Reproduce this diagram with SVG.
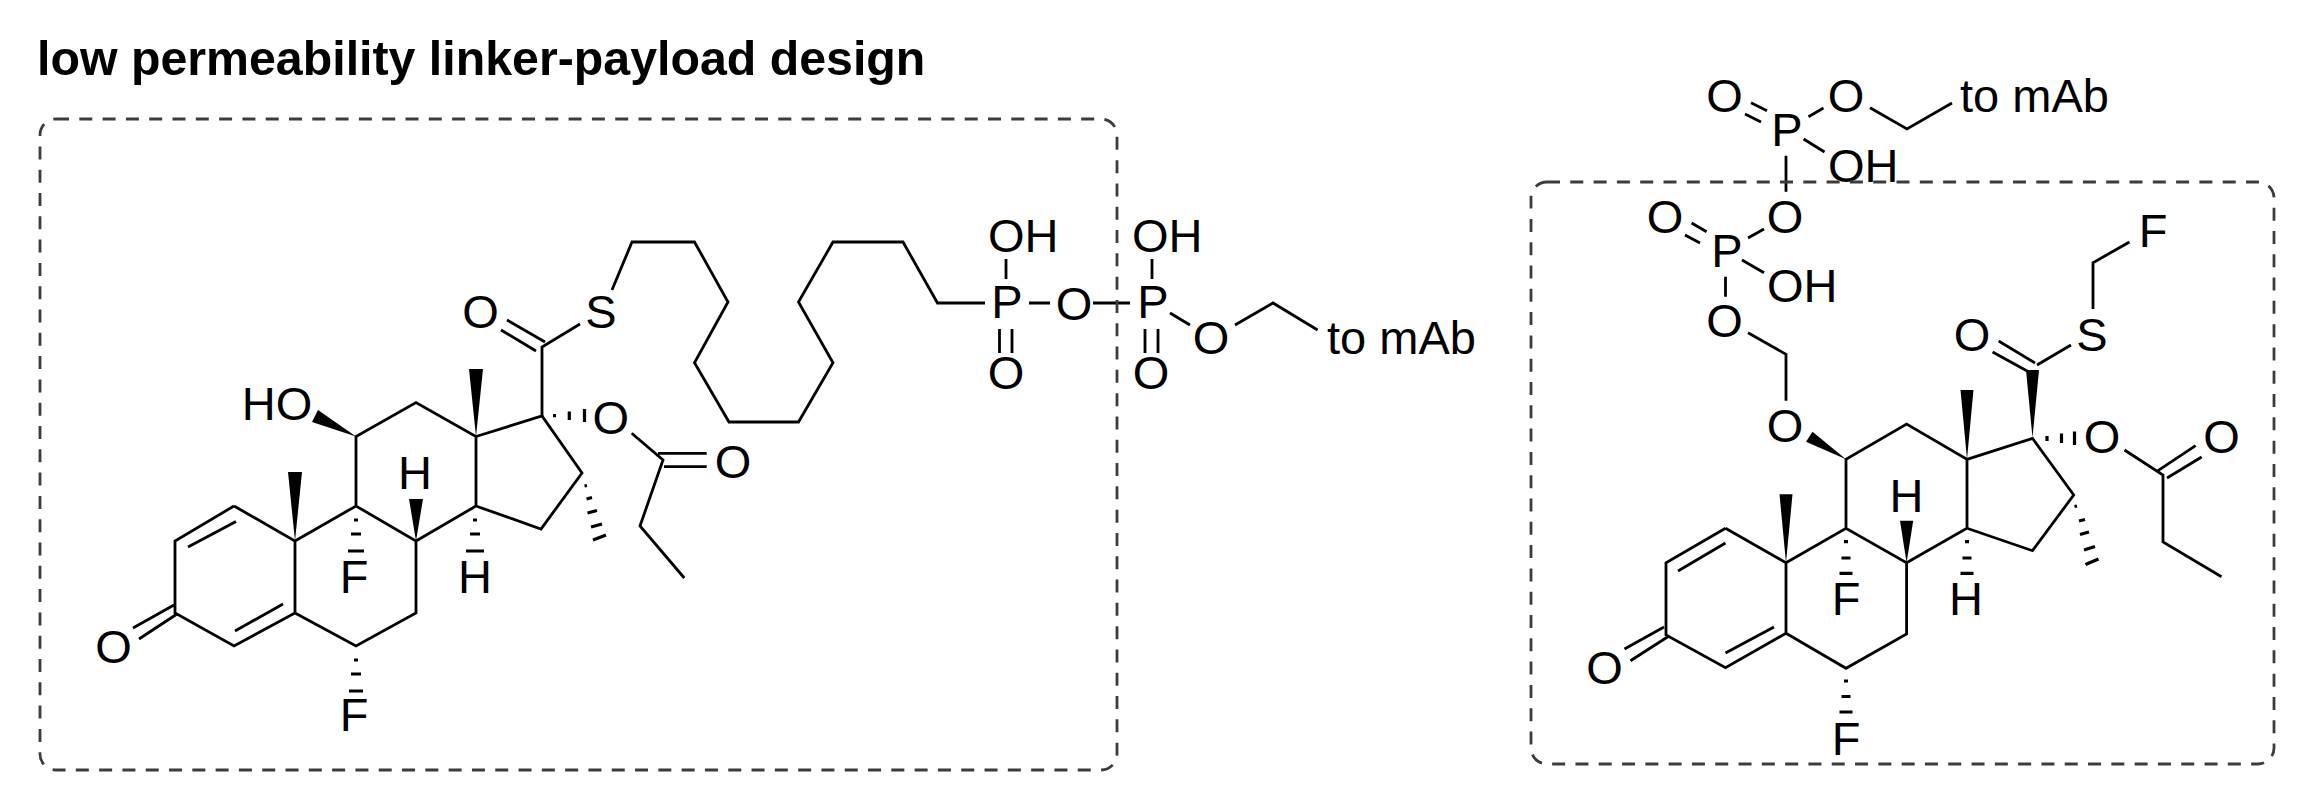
<svg xmlns="http://www.w3.org/2000/svg" width="2300" height="794" viewBox="0 0 2300 794">
<style>
text{font-family:"Liberation Sans",Arial,sans-serif;font-size:47px;fill:#000;text-anchor:middle}
.s{text-anchor:start}
.title{font-size:48.300px;font-weight:bold;text-anchor:start}
.b{fill:none;stroke:#000;stroke-width:2.8;stroke-linejoin:miter;stroke-linecap:butt}
.h{fill:none;stroke:#000;stroke-width:3.2}
.w{fill:#000;stroke:none}
.box{fill:none;stroke:#3c3c3c;stroke-width:2.8;stroke-dasharray:13 10.300}
</style>
<rect width="2300" height="794" fill="#fff"/>
<text id="title" class="title" x="37" y="75">low permeability linker-payload design</text>

<g id="connectors-left">
<path class="b" d="M234 506L175 541V613L234 646L295 613V541L234 506M295 541L356 506L416 541V613L356 646L295 613M356 506V436.500L416 402.500L476 436.500V506L416 541M476 436.500L542 416L582 473L541 529L476 506"/>
<path class="b" d="M188 547L236 521.500M235 631L283 604M174 605L133 628M177 614L139 639"/>
<path class="b" d="M542 416V347L580 324M507 320L545 342M501 330L536 351M612 290L632 242H694.500L728 302L694.500 362.700L729 422H798.500L833 362.700L798.500 302L833 242H903L937.500 303H985"/>
<path class="b" d="M631.700 433.300L663 460L640 526L684.300 578M658 453.300H706.700M664 466.700H706.700"/>
<path class="b" d="M1006 259V279M1152 259V279M999.500 329V353M1012 329V353M1145 329V353M1158 329V353M1029 303H1050M1093 303H1130M1170 313L1190 325M1235 325L1273 303L1317.600 330"/>
<polygon class="w" points="476,436.500 469,369 483,369"/>
<polygon class="w" points="295,541 288,472 302,472"/>
<polygon class="w" points="416,541 409,499 423,499"/>
<polygon class="w" points="356,436.500 318,410 312,422"/>
<path class="h" d="M354 520H358M351 534H361M348 551H364M473 520H477M470 534H480M466 551H484M354 660H358M351 674H361M349 691H363M553 415.700H556M569.300 411.500V420M584.500 409V422M584.500 486L587 485.500M586.500 499L592 497.500M587.500 513L597 510.500M591 527L602 524M593 540L606 535"/>
</g>

<g id="atoms-left">
<text x="113.500" y="663">O</text>
<text x="277" y="420">HO</text>
<text x="415" y="489">H</text>
<text x="354" y="593">F</text>
<text x="475" y="593">H</text>
<text x="354" y="731">F</text>
<text x="480.500" y="328">O</text>
<text x="601" y="328">S</text>
<text x="610.700" y="434">O</text>
<text x="733" y="478">O</text>
</g>
<g id="phosphate-left">
<text class="s" x="988" y="252">OH</text>
<text class="s" x="1132" y="252">OH</text>
<text x="1007" y="318">P</text>
<text x="1074" y="320">O</text>
<text x="1153" y="318">P</text>
<text x="1006" y="389">O</text>
<text x="1151" y="389">O</text>
<text x="1211" y="354">O</text>
<text class="s" x="1327" y="354">to mAb</text>
</g>

<g id="connectors-right">
<path class="b" d="M1725.500 528.300L1666 562.700V635L1725.500 667.700L1786 633.300V562.700L1725.500 528.300M1786 562.700L1846 528.300L1906.600 562.700V634L1846 668.300L1786 633.300M1846 528.300V459.300L1906.600 424L1967 459.300V528.300L1906.600 562.700M1967 459.300L2032.500 438.300L2073.700 495L2032.500 550.700L1967 528.300"/>
<path class="b" d="M1678 571L1725.500 543M1725.500 653L1774 627M1664 627L1624.500 649M1669 636L1630.500 660.700"/>
<path class="b" d="M1998.600 341L2035 363M1992.600 352L2028.500 371.700M2037 365L2071 345M2093 309V262.700L2129.500 242"/>
<path class="b" d="M2124.500 450L2163 475V542L2221.500 576.700M2158 470.700L2195.600 445.700M2167 478L2201.600 457"/>
<path class="b" d="M1751 102.700L1767 110.700M1745 114L1761 122M1808.500 116.700L1823.500 108M1870 107.700L1907 129L1952 103M1803.600 139L1824.500 152M1786 155.700V191.700M1764 229L1748 238M1691.600 223L1706.600 231.700M1685 235L1700 243M1742 260L1764 272.700M1725.500 276.700V296.700M1748 332.700L1786 354.300V400.700"/>
<polygon class="w" points="2032.500,437.700 2026,370 2039,370"/>
<polygon class="w" points="1967,459.300 1960.500,390 1973.500,390"/>
<polygon class="w" points="1786,562.700 1779.500,494.300 1792.500,494.300"/>
<polygon class="w" points="1906.600,562.700 1900,520.700 1913.200,520.700"/>
<polygon class="w" points="1846,459.300 1812.500,431.700 1806,441.700"/>
<path class="h" d="M1844 541.700H1848M1841.500 558H1850.500M1839.500 573.300H1852.500M1965 541.700H1969M1962.500 558H1971.500M1960.500 573.300H1973.500M1844 681H1848M1841.500 696.500H1850.500M1839.500 712H1852.500M2047 436V441M2061.500 433.500V443M2074.500 431.500V445M2074.500 506.500L2077 506M2079 521L2085 519.500M2080 534.500L2089 532M2084 550L2095 546.500M2085.500 564.500L2098.500 559"/>
</g>

<g id="atoms-right">
<text x="1724.500" y="112">O</text>
<text x="1846" y="112">O</text>
<text class="s" x="1960" y="112">to mAb</text>
<text x="1787" y="146">P</text>
<text class="s" x="1828" y="182">OH</text>
<text x="1785" y="232.700">O</text>
<text x="1665" y="232.700">O</text>
<text x="1727" y="267">P</text>
<text class="s" x="1767" y="302">OH</text>
<text x="1724.500" y="336.700">O</text>
<text x="1785" y="441.700">O</text>
<text x="2153" y="247">F</text>
<text x="2092" y="350.700">S</text>
<text x="1972" y="350.700">O</text>
<text x="1906.600" y="511.700">H</text>
<text x="1846" y="615">F</text>
<text x="1966" y="615">H</text>
<text x="1846" y="755">F</text>
<text x="1604.600" y="684">O</text>
<text x="2102" y="453">O</text>
<text x="2221.500" y="453">O</text>
</g>

<g id="boxes">
<rect id="box-left" class="box" x="40" y="119" width="1077" height="651" rx="16"/>
<rect id="box-right" class="box" x="1531" y="182" width="743" height="582" rx="16"/>
</g>
</svg>
